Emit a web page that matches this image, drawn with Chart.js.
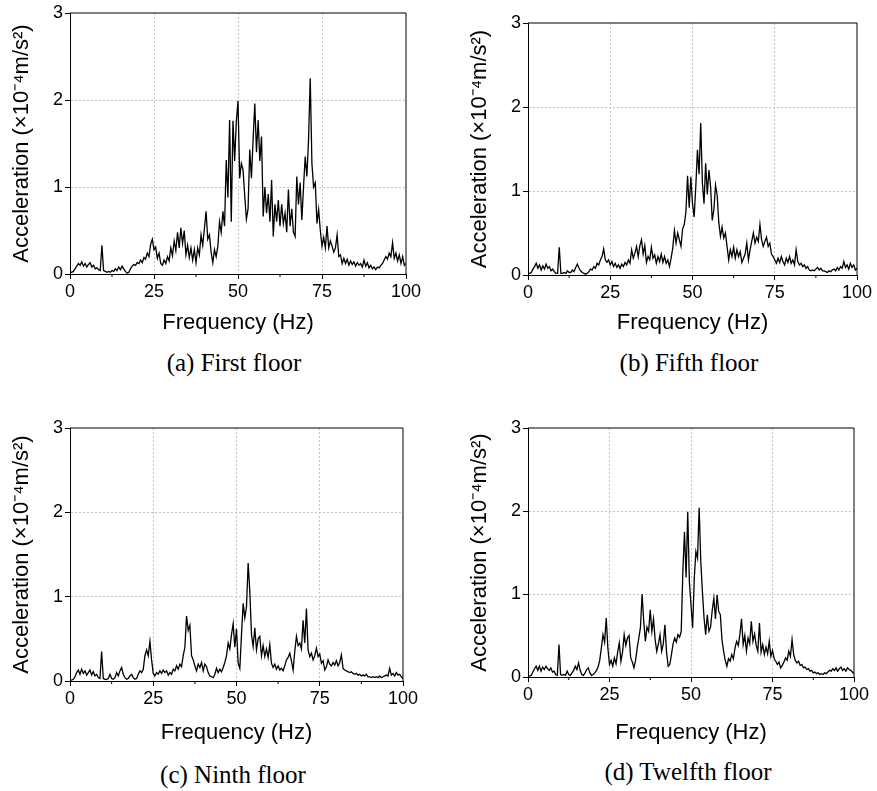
<!DOCTYPE html>
<html>
<head>
<meta charset="utf-8">
<script src="https://cdn.jsdelivr.net/npm/chart.js@4.4.1/dist/chart.umd.min.js"></script>
<style>
  body { margin: 0; background: #fff; width: 877px; height: 791px; position: relative; overflow: hidden; }
  canvas { position: absolute; }
  .caption {
    position: absolute; transform: translate(-50%, -50%); white-space: nowrap;
    font-family: 'Liberation Serif', 'Times New Roman', serif; font-size: 25px; color: #000;
  }
</style>
</head>
<body>
<script>
// spectra sampled every 0.5 Hz from 0 to 100 Hz (values in 1e-4 m/s^2)
const freqStep = 0.5;

const firstFloor = [
  0.02,0.02,0.03,0.06,0.09,0.12,0.10,0.14,0.09,0.12,
  0.08,0.11,0.13,0.08,0.10,0.06,0.07,0.05,0.04,0.33,
  0.04,0.03,0.02,0.03,0.02,0.04,0.03,0.06,0.04,0.08,
  0.05,0.09,0.06,0.03,0.01,0.02,0.06,0.09,0.11,0.10,
  0.13,0.12,0.16,0.13,0.19,0.17,0.24,0.20,0.34,0.40,
  0.28,0.31,0.18,0.24,0.12,0.10,0.16,0.12,0.20,0.15,
  0.30,0.21,0.38,0.27,0.48,0.30,0.53,0.35,0.50,0.22,
  0.33,0.19,0.30,0.16,0.28,0.13,0.30,0.22,0.45,0.33,
  0.52,0.72,0.40,0.45,0.25,0.13,0.28,0.20,0.32,0.60,
  0.48,0.72,0.55,1.31,0.88,1.77,0.60,1.76,1.30,1.75,
  1.99,1.10,1.27,1.20,0.90,0.63,0.75,1.43,1.10,1.55,
  1.96,1.40,1.77,1.30,1.58,0.66,1.00,0.70,0.92,0.60,
  1.08,0.43,0.80,0.60,0.85,0.55,0.80,0.58,0.70,0.48,
  0.97,0.55,0.75,0.48,0.43,1.12,0.80,1.05,0.62,1.00,
  1.35,1.12,1.55,2.25,1.27,1.00,1.05,0.58,0.74,0.50,
  0.32,0.42,0.30,0.55,0.30,0.38,0.32,0.25,0.30,0.45,
  0.20,0.22,0.12,0.18,0.12,0.17,0.10,0.15,0.11,0.14,
  0.09,0.13,0.10,0.12,0.08,0.16,0.09,0.13,0.07,0.10,
  0.06,0.08,0.05,0.08,0.07,0.10,0.12,0.16,0.20,0.17,
  0.24,0.20,0.36,0.18,0.24,0.15,0.22,0.12,0.20,0.10,
  0.12
];

const fifthFloor = [
  0.01,0.02,0.03,0.07,0.10,0.14,0.08,0.12,0.06,0.11,
  0.07,0.13,0.08,0.10,0.05,0.07,0.04,0.02,0.02,0.33,
  0.02,0.02,0.03,0.02,0.05,0.03,0.03,0.06,0.04,0.09,
  0.13,0.08,0.05,0.03,0.02,0.01,0.02,0.04,0.07,0.06,
  0.10,0.08,0.14,0.12,0.18,0.22,0.31,0.18,0.15,0.18,
  0.12,0.16,0.10,0.14,0.09,0.12,0.08,0.13,0.10,0.15,
  0.12,0.18,0.14,0.30,0.20,0.26,0.34,0.22,0.35,0.42,
  0.25,0.35,0.15,0.22,0.18,0.33,0.20,0.24,0.14,0.22,
  0.16,0.25,0.15,0.22,0.14,0.18,0.10,0.20,0.32,0.53,
  0.38,0.50,0.42,0.34,0.55,0.60,0.75,1.18,0.80,1.17,
  0.85,0.69,1.05,1.49,1.20,1.81,1.10,0.85,1.33,0.96,
  1.25,1.05,0.65,0.78,1.07,0.95,0.62,0.46,0.57,0.44,
  0.50,0.34,0.18,0.30,0.22,0.33,0.20,0.30,0.22,0.28,
  0.15,0.20,0.25,0.38,0.18,0.30,0.40,0.50,0.38,0.45,
  0.40,0.60,0.42,0.34,0.40,0.45,0.34,0.38,0.25,0.22,
  0.18,0.14,0.20,0.15,0.22,0.16,0.12,0.20,0.15,0.22,
  0.14,0.18,0.12,0.30,0.16,0.12,0.14,0.10,0.12,0.08,
  0.10,0.06,0.05,0.06,0.05,0.07,0.09,0.06,0.08,0.05,
  0.05,0.04,0.03,0.05,0.04,0.06,0.07,0.05,0.09,0.06,
  0.10,0.08,0.16,0.09,0.12,0.07,0.14,0.09,0.12,0.06,
  0.08
];

const ninthFloor = [
  0.01,0.01,0.02,0.05,0.10,0.13,0.08,0.14,0.09,0.12,
  0.07,0.10,0.13,0.07,0.11,0.06,0.08,0.04,0.03,0.35,
  0.03,0.02,0.02,0.03,0.08,0.03,0.02,0.04,0.10,0.06,
  0.12,0.16,0.08,0.04,0.02,0.03,0.06,0.08,0.04,0.02,
  0.03,0.08,0.12,0.10,0.14,0.30,0.37,0.30,0.47,0.25,
  0.09,0.06,0.10,0.08,0.12,0.09,0.13,0.10,0.12,0.07,
  0.10,0.08,0.14,0.12,0.18,0.14,0.20,0.17,0.30,0.40,
  0.77,0.60,0.66,0.30,0.25,0.18,0.12,0.20,0.16,0.22,
  0.12,0.20,0.17,0.10,0.06,0.05,0.04,0.08,0.15,0.10,
  0.14,0.11,0.16,0.22,0.30,0.45,0.38,0.55,0.68,0.40,
  0.62,0.21,0.15,0.55,0.92,0.75,0.88,1.40,1.06,0.55,
  0.41,0.63,0.37,0.50,0.53,0.30,0.42,0.29,0.38,0.28,
  0.43,0.21,0.16,0.20,0.14,0.18,0.13,0.15,0.12,0.18,
  0.25,0.28,0.33,0.24,0.13,0.35,0.53,0.42,0.45,0.38,
  0.72,0.45,0.86,0.37,0.29,0.33,0.25,0.30,0.39,0.29,
  0.32,0.21,0.24,0.13,0.17,0.25,0.20,0.18,0.22,0.19,
  0.24,0.18,0.22,0.31,0.15,0.13,0.12,0.11,0.10,0.11,
  0.09,0.08,0.09,0.07,0.08,0.06,0.07,0.06,0.08,0.05,
  0.05,0.04,0.05,0.04,0.05,0.04,0.06,0.04,0.05,0.06,
  0.07,0.06,0.15,0.07,0.09,0.06,0.10,0.07,0.08,0.05,
  0.03
];

const twelfthFloor = [
  0.01,0.01,0.02,0.06,0.10,0.13,0.08,0.13,0.07,0.12,
  0.09,0.13,0.10,0.08,0.11,0.06,0.07,0.03,0.02,0.39,
  0.03,0.02,0.03,0.02,0.07,0.03,0.02,0.05,0.08,0.13,
  0.09,0.17,0.08,0.03,0.02,0.05,0.09,0.11,0.05,0.02,
  0.03,0.05,0.08,0.12,0.20,0.35,0.51,0.42,0.71,0.35,
  0.15,0.20,0.13,0.23,0.16,0.30,0.41,0.19,0.30,0.51,
  0.38,0.47,0.50,0.23,0.18,0.11,0.20,0.35,0.47,0.60,
  1.00,0.67,0.43,0.60,0.55,0.81,0.55,0.70,0.45,0.31,
  0.40,0.51,0.31,0.40,0.63,0.30,0.13,0.15,0.27,0.40,
  0.47,0.42,0.51,0.48,0.55,1.27,1.75,1.20,1.99,1.15,
  0.87,0.59,1.19,1.51,1.43,2.04,1.39,1.03,0.71,0.51,
  0.75,0.55,0.60,0.80,0.95,0.70,0.99,0.79,0.75,0.45,
  0.31,0.20,0.13,0.22,0.19,0.27,0.22,0.35,0.43,0.38,
  0.51,0.70,0.39,0.50,0.31,0.47,0.40,0.67,0.43,0.52,
  0.38,0.31,0.65,0.30,0.39,0.27,0.36,0.28,0.43,0.25,
  0.32,0.22,0.19,0.15,0.18,0.11,0.14,0.18,0.23,0.20,
  0.31,0.25,0.45,0.27,0.20,0.17,0.19,0.14,0.15,0.11,
  0.12,0.09,0.10,0.07,0.08,0.05,0.06,0.04,0.05,0.03,
  0.04,0.03,0.05,0.04,0.06,0.08,0.07,0.10,0.08,0.11,
  0.07,0.10,0.12,0.08,0.10,0.07,0.11,0.09,0.08,0.06,
  0.04
];

const xTicks = [0, 25, 50, 75, 100];
const xMinorTicks = [12.5, 37.5, 62.5, 87.5];
const yTicks = [0, 1, 2, 3];

const xTitle = 'Frequency (Hz)';
const yTitle = 'Acceleration (×10⁻⁴m/s²)';

const sans = "'Liberation Sans', Arial, Helvetica, sans-serif";

// plot boxes in page pixels, where the titles sit
const panels = [
  { values: firstFloor,   caption: '(a) First floor',   plot: { l: 70,  t: 13,  r: 406, b: 274 }, yTitleX: 21.7,  xTitleY: 323, cap: [234, 363] },
  { values: fifthFloor,   caption: '(b) Fifth floor',   plot: { l: 528, t: 23,  r: 857, b: 275 }, yTitleX: 480,   xTitleY: 323, cap: [689, 363] },
  { values: ninthFloor,   caption: '(c) Ninth floor',   plot: { l: 70,  t: 428, r: 403, b: 681 }, yTitleX: 21.7,  xTitleY: 733, cap: [233, 775] },
  { values: twelfthFloor, caption: '(d) Twelfth floor', plot: { l: 528, t: 428, r: 854, b: 677 }, yTitleX: 480,   xTitleY: 733, cap: [688, 772] }
];

// top/right frame and short minor ticks on the x axis
const framePlugin = {
  id: 'frame',
  afterDraw(chart) {
    const { ctx, chartArea: a, scales: { x } } = chart;
    ctx.save();
    ctx.strokeStyle = '#000';
    ctx.lineWidth = 1;
    ctx.setLineDash([]);
    ctx.beginPath();
    ctx.moveTo(a.left, a.top);
    ctx.lineTo(a.right, a.top);
    ctx.lineTo(a.right, a.bottom);
    ctx.stroke();
    ctx.beginPath();
    xMinorTicks.forEach(v => {
      const px = x.getPixelForValue(v);
      ctx.moveTo(px, a.bottom);
      ctx.lineTo(px, a.bottom + 3);
    });
    ctx.stroke();
    ctx.restore();
  }
};

const edge = (v, lo, hi) => v === lo || v === hi;

panels.forEach(p => {
  const yAxisW = 70;
  const padTop = 15, padRight = 25;
  const left = p.plot.l - yAxisW;
  const top = p.plot.t - padTop;
  const w = p.plot.r - left + padRight;
  const titleLH = 22 * 1.2;
  const h = Math.round(p.xTitleY + titleLH / 2 + 4 - top);
  const xAxisH = h - (p.plot.b - top);

  const canvas = document.createElement('canvas');
  canvas.width = w;
  canvas.height = h;
  canvas.style.left = left + 'px';
  canvas.style.top = top + 'px';
  canvas.style.width = w + 'px';
  canvas.style.height = h + 'px';
  document.body.appendChild(canvas);

  const cap = document.createElement('div');
  cap.className = 'caption';
  cap.textContent = p.caption;
  cap.style.left = p.cap[0] + 'px';
  cap.style.top = p.cap[1] + 'px';
  document.body.appendChild(cap);

  const points = p.values.map((v, i) => ({ x: i * freqStep, y: v }));

  const gridOpts = (lo, hi) => ({
    color: c => edge(c.tick.value, lo, hi) ? 'rgba(0,0,0,0)' : '#c4c4c4',
    lineWidth: 1,
    tickLength: 5,
    tickColor: '#000',
    tickBorderDash: []
  });

  new Chart(canvas, {
    type: 'line',
    data: {
      datasets: [{
        data: points,
        borderColor: '#000',
        borderWidth: 1.3,
        pointRadius: 0,
        tension: 0,
        fill: false
      }]
    },
    options: {
      responsive: false,
      animation: false,
      events: [],
      layout: { padding: { left: 0, top: padTop, right: padRight, bottom: 0 } },
      plugins: { legend: { display: false }, tooltip: { enabled: false } },
      scales: {
        x: {
          type: 'linear',
          min: 0, max: 100,
          afterBuildTicks: s => { s.ticks = xTicks.map(v => ({ value: v })); },
          afterFit: s => { s.height = xAxisH; },
          ticks: { color: '#000', font: { family: sans, size: 18 }, padding: 2, maxRotation: 0 },
          grid: gridOpts(0, 100),
          border: { display: true, color: '#000', width: 1, dash: [2, 2] },
          title: {
            display: true, text: xTitle, color: '#000',
            font: { family: sans, size: 22 }, padding: { top: 0, bottom: 4 }
          }
        },
        y: {
          min: 0, max: 3,
          afterBuildTicks: s => { s.ticks = yTicks.map(v => ({ value: v })); },
          afterFit: s => { s.width = yAxisW; },
          ticks: { color: '#000', font: { family: sans, size: 18 }, padding: 2 },
          grid: gridOpts(0, 3),
          border: { display: true, color: '#000', width: 1, dash: [2, 2] },
          title: {
            display: true, text: yTitle, color: '#000',
            font: { family: sans, size: 22 },
            padding: { top: p.yTitleX - left - titleLH / 2, bottom: 0 }
          }
        }
      }
    },
    plugins: [framePlugin]
  });
});
</script>
</body>
</html>
